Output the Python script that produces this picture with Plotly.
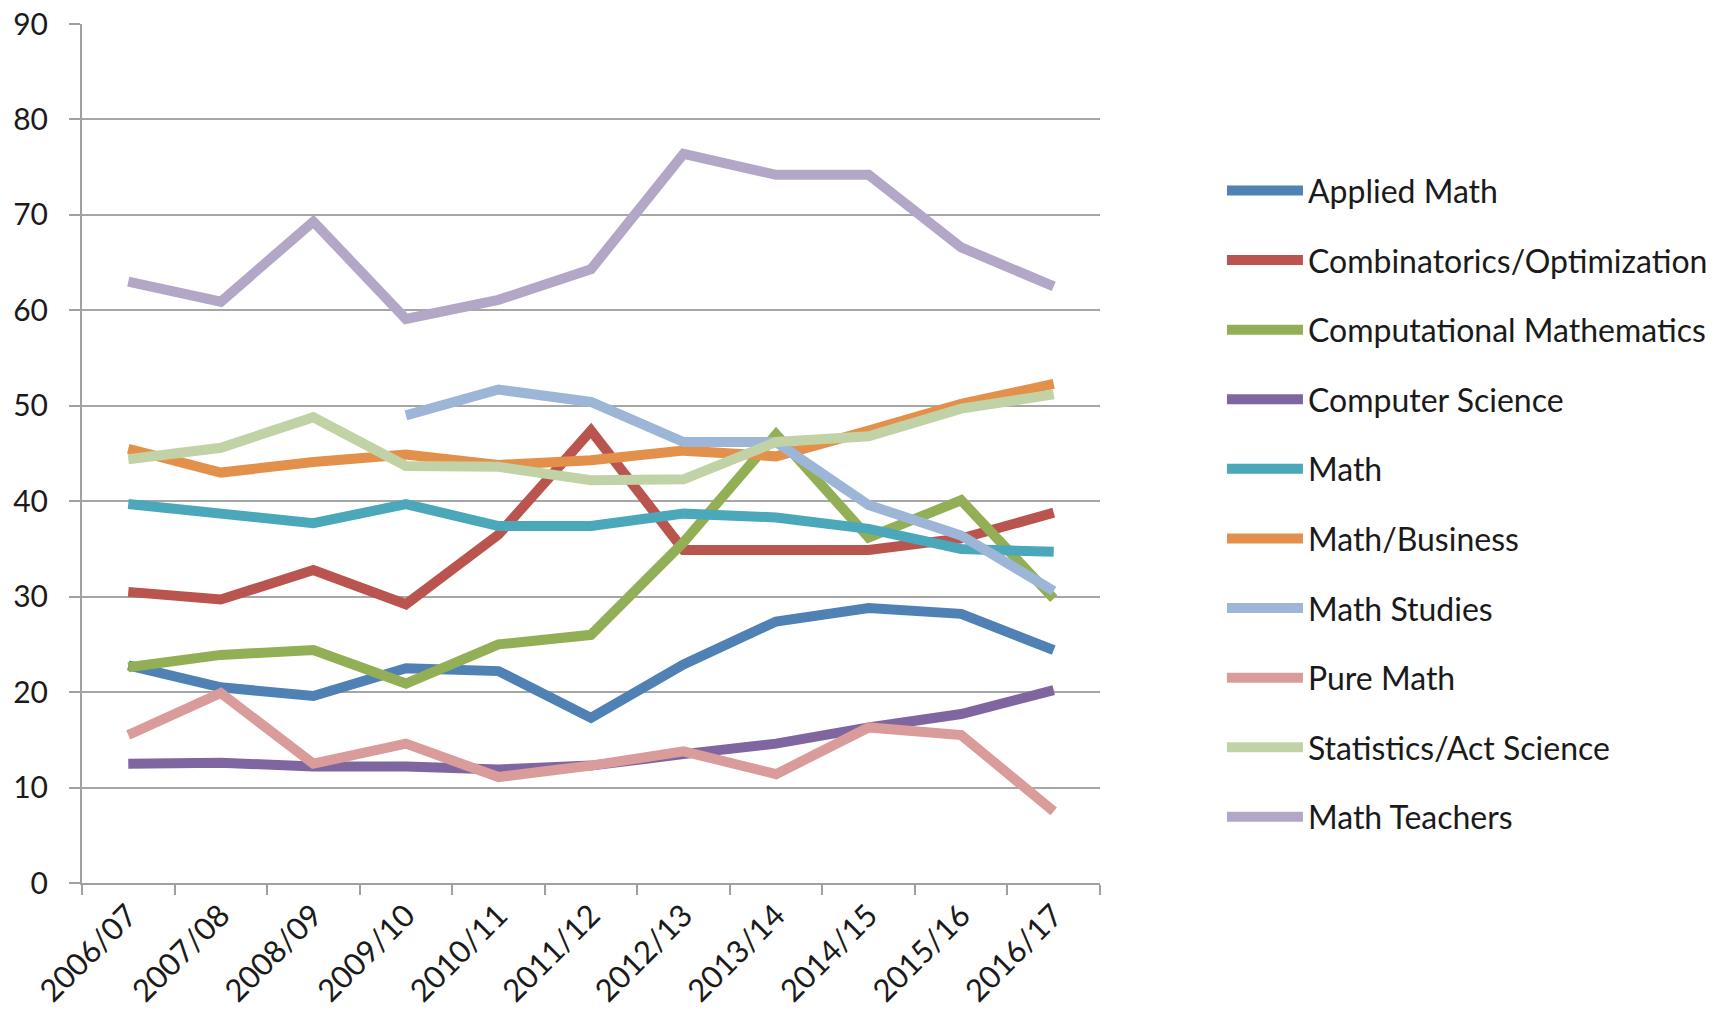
import plotly.graph_objects as go

years = ["2006/07", "2007/08", "2008/09", "2009/10", "2010/11", "2011/12",
         "2012/13", "2013/14", "2014/15", "2015/16", "2016/17"]

applied_math = [22.8, 20.5, 19.6, 22.5, 22.2, 17.3, 22.9, 27.4, 28.8, 28.2, 24.4]
combinatorics = [30.5, 29.7, 32.8, 29.2, 36.5, 47.4, 34.9, 35.0, 34.9, 36.1, 38.8]
computational = [22.6, 23.9, 24.4, 20.9, 25.0, 26.0, 35.7, 47.0, 36.2, 40.1, 29.8]
computer_science = [12.5, 12.6, 12.2, 12.2, 11.9, 12.3, 13.5, 14.6, 16.3, 17.7, 20.2]
math = [39.7, 38.7, 37.7, 39.7, 37.4, 37.4, 38.7, 38.3, 37.1, 35.0, 34.7]
math_business = [45.5, 43.0, 44.1, 44.9, 43.8, 44.3, 45.3, 44.7, 47.4, 50.2, 52.3]
math_studies = [None, None, None, 49.0, 51.7, 50.4, 46.2, 46.2, 39.6, 36.4, 30.6]
pure_math = [15.5, 19.9, 12.5, 14.6, 11.1, 12.3, 13.8, 11.4, 16.3, 15.5, 7.5]
stats_act = [44.4, 45.6, 48.8, 43.7, 43.6, 42.2, 42.3, 46.2, 46.8, 49.7, 51.2]
math_teachers = [63.0, 60.9, 69.3, 59.1, 61.1, 64.3, 76.4, 74.2, 74.2, 66.6, 62.5]

series_names = ["Applied Math", "Combinatorics/Optimization", "Computational Mathematics",
                "Computer Science", "Math", "Math/Business", "Math Studies", "Pure Math",
                "Statistics/Act Science", "Math Teachers"]
series_values = [applied_math, combinatorics, computational, computer_science, math,
                 math_business, math_studies, pure_math, stats_act, math_teachers]
series_colors = ["#4F81B5", "#B9554E", "#93AF55", "#8066A0", "#4AA8BA",
                 "#E2904A", "#9DB5D7", "#DA9C9B", "#C1D3A6", "#B3A7C8"]

y_ticks = [0, 10, 20, 30, 40, 50, 60, 70, 80, 90]

FONT = "Lato, Calibri, 'Open Sans', sans-serif"

fig = go.Figure()
for name, vals, col in zip(series_names, series_values, series_colors):
    fig.add_trace(go.Scatter(
        x=years, y=vals, name=name, mode="lines",
        line=dict(color=col, width=10),
        legendgroup=name,
        connectgaps=False,
    ))

fig.update_layout(
    width=1714, height=1015,
    margin=dict(l=82, r=614, t=24, b=132, autoexpand=False),
    paper_bgcolor="white", plot_bgcolor="white",
    font=dict(family=FONT, size=31, color="#1a1a1a"),
    showlegend=True,
    legend=dict(
        x=1.1198, y=0.838, xanchor="left", yanchor="top",
        font=dict(family=FONT, size=32, color="#1a1a1a"),
        tracegroupgap=25,
        itemwidth=76,
        bgcolor="rgba(0,0,0,0)",
    ),
    xaxis=dict(
        type="category",
        categoryorder="array", categoryarray=years,
        range=[-0.5, len(years) - 0.5],
        tickson="boundaries",
        ticks="outside", ticklen=10, tickwidth=2, tickcolor="#A0A0A0",
        showline=True, linecolor="#A0A0A0", linewidth=2,
        showgrid=False, zeroline=False,
        tickangle=-45,
        automargin=False,
        ticklabeloverflow="allow",
        tickfont=dict(family=FONT, size=31, color="#1a1a1a"),
    ),
    yaxis=dict(
        range=[0, 90],
        tickvals=y_ticks,
        ticks="outside", ticklen=11, tickwidth=2, tickcolor="#A0A0A0",
        showline=True, linecolor="#A0A0A0", linewidth=2,
        showgrid=True, gridcolor="#A6A6A6", gridwidth=2,
        zeroline=False,
        automargin=False,
        ticklabelstandoff=15,
        ticklabeloverflow="allow",
        tickfont=dict(family=FONT, size=30, color="#1a1a1a"),
    ),
)

# remove the browser's default 8px page margin so the figure fills the window
fig.write_html("out.html",
               config={"displayModeBar": False},
               post_script="document.body.style.margin='0';document.body.style.overflow='hidden';")
